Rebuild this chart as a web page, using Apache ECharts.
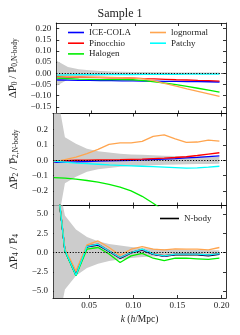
<!DOCTYPE html>
<html><head><meta charset="utf-8">
<script src="https://cdn.jsdelivr.net/npm/echarts@6/dist/echarts.min.js"></script>
<style>html,body{margin:0;padding:0;background:#fff}#c{width:240px;height:335px}</style>
</head><body><div id="c"></div><script>
// k bins (h/Mpc)
const kVals = [0.01, 0.0225, 0.035, 0.0475, 0.06, 0.0725, 0.085, 0.0975, 0.11, 0.1225, 0.135, 0.1475, 0.16, 0.1725, 0.185, 0.1975];

// Monopole relative difference
const iceP0 = [-0.030, -0.031, -0.032, -0.032, -0.033, -0.033, -0.034, -0.034, -0.035, -0.035, -0.036, -0.036, -0.037, -0.037, -0.038, -0.039];
const pinP0 = [-0.015, -0.016, -0.017, -0.018, -0.019, -0.020, -0.021, -0.022, -0.024, -0.025, -0.027, -0.029, -0.030, -0.032, -0.033, -0.035];
const halP0 = [-0.022, -0.024, -0.026, -0.027, -0.028, -0.028, -0.028, -0.029, -0.033, -0.038, -0.044, -0.051, -0.059, -0.067, -0.075, -0.084];
const logP0 = [-0.012, -0.014, -0.016, -0.017, -0.018, -0.019, -0.020, -0.022, -0.025, -0.034, -0.046, -0.058, -0.070, -0.081, -0.092, -0.103];
const patP0 = [-0.008, -0.007, -0.006, -0.006, -0.006, -0.006, -0.006, -0.006, -0.005, -0.005, -0.005, -0.005, -0.004, -0.004, -0.004, -0.004];
const sigP0 = [0.055, 0.028, 0.018, 0.013, 0.010, 0.008, 0.007, 0.006, 0.0055, 0.005, 0.0045, 0.004, 0.004, 0.0035, 0.0035, 0.003];

// Quadrupole relative difference
const iceP2 = [-0.014, -0.012, -0.010, -0.008, -0.006, -0.004, -0.002, 0.000, 0.002, 0.005, 0.008, 0.011, 0.015, 0.019, 0.024, 0.028];
const pinP2 = [-0.004, -0.002, 0.000, 0.001, 0.002, 0.003, 0.004, 0.006, 0.008, 0.011, 0.014, 0.018, 0.023, 0.031, 0.040, 0.049];
const halP2 = [-0.113, -0.117, -0.123, -0.132, -0.143, -0.157, -0.175, -0.200, -0.235, -0.280, -0.330, -0.380, -0.430, -0.480, -0.530, -0.580];
const logP2 = [-0.011, 0.004, 0.020, 0.043, 0.071, 0.104, 0.114, 0.114, 0.123, 0.156, 0.166, 0.140, 0.117, 0.119, 0.132, 0.125];
const patP2 = [-0.006, -0.012, -0.018, -0.022, -0.026, -0.030, -0.033, -0.036, -0.039, -0.042, -0.045, -0.048, -0.051, -0.050, -0.045, -0.039];
const sigP2 = [0.55, 0.15, 0.108, 0.075, 0.058, 0.050, 0.043, 0.038, 0.036, 0.032, 0.030, 0.028, 0.026, 0.025, 0.024, 0.023];

// Hexadecapole relative difference
const nbP4  = [12.8, 0.25, -2.90, 0.75, 0.95, 0.15, -0.75, -0.05, 0.30, -0.25, -0.50, -0.30, -0.30, -0.30, -0.42, -0.25];
const iceP4 = [12.9, 0.28, -2.92, 0.78, 1.02, 0.18, -0.70, -0.02, 0.38, -0.20, -0.46, -0.24, -0.24, -0.24, -0.34, -0.18];
const pinP4 = [12.9, 0.30, -2.90, 0.85, 1.10, 0.22, -0.66, 0.02, 0.42, -0.16, -0.42, -0.20, -0.20, -0.20, -0.30, -0.12];
const halP4 = [13.0, 0.20, -3.00, 0.45, 0.65, -0.20, -1.30, -0.43, -0.10, -0.74, -1.04, -0.74, -0.74, -0.82, -0.90, -0.74];
const logP4 = [13.0, 0.50, -2.40, 1.00, 1.50, 0.65, -0.35, 0.43, 0.78, 0.43, 0.35, 0.48, 0.43, 0.43, 0.35, 0.65];
const patP4 = [13.0, 0.30, -2.94, 0.80, 1.08, 0.20, -0.65, 0.00, 0.43, -0.17, -0.43, -0.20, -0.20, -0.20, -0.30, -0.13];
const sigP4 = [12.0, 4.8, 3.0, 2.0, 1.45, 1.10, 0.90, 0.72, 0.58, 0.50, 0.44, 0.40, 0.36, 0.33, 0.31, 0.29];

// Tick labels
const xTicks = [0.05, 0.10, 0.15, 0.20];
const yTicks0 = [-0.15, -0.10, -0.05, 0.00, 0.05, 0.10, 0.15, 0.20];
const yTicks2 = [-0.2, -0.1, 0.0, 0.1, 0.2];
const yTicks4 = [-5.0, -2.5, 0.0, 2.5, 5.0];

const FONT = 'Liberation Serif';
const COL = {ice:'#0000ff', pin:'#ff0000', hal:'#00ee00', log:'#ffa54f', pat:'#00ffff', nb:'#000000'};

const grids = [
  {left:53, right:14, top:23, height:90.5},
  {left:53, right:14, top:113.5, height:92},
  {left:53, right:14, top:205.5, height:92.5}
];
const yR = [[-0.18, 0.225], [-0.295, 0.305], [-5.9, 6.1]];
const yT = [yTicks0, yTicks2, yTicks4];
const yDec = [2, 1, 1];
const fmtMinus = (v, d) => (v < -1e-9 ? '\u2212' : '') + Math.abs(v).toFixed(d);

const xAxis = [], yAxis = [];
for (let g = 0; g < 3; g++) {
  ['bottom', 'top'].forEach(pos => {
    xAxis.push({
      type:'value', gridIndex:g, position:pos, min:0.009, max:0.205,
      axisLine:{show:true, onZero:false, lineStyle:{color:'#000', width:0.8}},
      axisTick:{show:true, inside:true, length:3, customValues:xTicks, lineStyle:{color:'#000', width:0.8}},
      axisLabel:{show: g === 2 && pos === 'bottom', customValues:xTicks, margin:3,
        formatter: v => v.toFixed(2), fontFamily:FONT, fontSize:9, color:'#222'},
      splitLine:{show:false},
      name: (g === 2 && pos === 'bottom') ? '{i|k} ({i|h}/Mpc)' : '',
      nameLocation:'middle', nameGap:16,
      nameTextStyle:{fontFamily:FONT, fontSize:9.5, color:'#222', rich:{i:{fontFamily:FONT, fontSize:9.5, fontStyle:'italic', color:'#222'}}}
    });
  });
  const names = [
    '{b|\u0394P\u0305}{s|0}{b| / P\u0305}{s|0,N-body}',
    '{b|\u0394P\u0305}{s|2}{b| / P\u0305}{s|2,N-body}',
    '{b|\u0394P\u0305}{s|4}{b| / P\u0305}{s|4}'
  ];
  ['left', 'right'].forEach(pos => {
    yAxis.push({
      type:'value', gridIndex:g, position:pos, min:yR[g][0], max:yR[g][1],
      axisLine:{show:true, onZero:false, lineStyle:{color:'#000', width:0.8}},
      axisTick:{show:true, inside:true, length:3, customValues:yT[g], lineStyle:{color:'#000', width:0.8}},
      axisLabel:{show: pos === 'left', customValues:yT[g], margin:5,
        formatter: v => fmtMinus(v, yDec[g]), fontFamily:FONT, fontSize:9, color:'#222'},
      splitLine:{show:false},
      name: pos === 'left' ? names[g] : '',
      nameLocation:'middle', nameRotate:90, nameGap: g === 0 ? 36 : 33,
      nameTextStyle:{fontFamily:FONT, color:'#222',
        rich:{b:{fontFamily:FONT, fontSize:11, color:'#222'}, s:{fontFamily:FONT, fontSize:7.5, color:'#222', padding:[4,0,0,0]}}}
    });
  });
}

const pts = arr => kVals.map((k, i) => [k, arr[i]]);
const series = [];
function band(g, sig) {
  series.push({
    name:'band'+g, type:'custom', xAxisIndex:2*g, yAxisIndex:2*g, clip:true, silent:true, z:1,
    data: kVals.map((k, i) => [k, -sig[i], sig[i]]),
    encode:{x:0, y:[1,2]},
    renderItem: (params, api) => {
      if (params.dataIndex !== 0) return null;
      const up = kVals.map((k, i) => api.coord([k, sig[i]]));
      const lo = kVals.map((k, i) => api.coord([k, -sig[i]])).reverse();
      return {type:'polygon', shape:{points: up.concat(lo)}, style:{fill:'#cccccc', stroke:null}};
    }
  });
}
function line(g, name, arr, color, last) {
  const s = {
    name, type:'line', xAxisIndex:2*g, yAxisIndex:2*g, data:pts(arr), symbol:'none',
    color, itemStyle:{color}, lineStyle:{color, width:1.3}, z:3, clip:true
  };
  if (last) {
    s.markLine = {silent:true, symbol:'none', label:{show:false}, z:5,
      lineStyle:{color:'#000', type:[1.2,1.6], width:1}, data:[{yAxis:0}]};
  }
  series.push(s);
}
band(0, sigP0);
line(0, 'ICE-COLA', iceP0, COL.ice);
line(0, 'Pinocchio', pinP0, COL.pin);
line(0, 'Halogen', halP0, COL.hal);
line(0, 'lognormal', logP0, COL.log);
line(0, 'Patchy', patP0, COL.pat, true);
band(1, sigP2);
line(1, 'ICE-COLA', iceP2, COL.ice);
line(1, 'Pinocchio', pinP2, COL.pin);
line(1, 'Halogen', halP2, COL.hal);
line(1, 'lognormal', logP2, COL.log);
line(1, 'Patchy', patP2, COL.pat, true);
band(2, sigP4);
line(2, 'N-body', nbP4, COL.nb);
line(2, 'ICE-COLA', iceP4, COL.ice);
line(2, 'Pinocchio', pinP4, COL.pin);
line(2, 'Halogen', halP4, COL.hal);
line(2, 'lognormal', logP4, COL.log);
line(2, 'Patchy', patP4, COL.pat, true);

const legText = {fontFamily:FONT, fontSize:9, lineHeight:9, color:'#222'};
const legBase = {orient:'vertical', icon:'rect', itemWidth:16, itemHeight:1.6, itemGap:1.7,
  textStyle:legText, selectedMode:false, padding:0};

const chart = echarts.init(document.getElementById('c'), null, {renderer:'canvas'});
chart.setOption({
  animation:false,
  backgroundColor:'#fff',
  title:{text:'Sample 1', left:'center', top:3, textStyle:{fontFamily:FONT, fontSize:12, fontWeight:'normal', color:'#222'}},
  grid:grids, xAxis, yAxis, series,
  legend:[
    Object.assign({}, legBase, {data:['ICE-COLA','Pinocchio','Halogen'], left:68, top:28}),
    Object.assign({}, legBase, {data:['lognormal','Patchy'], left:150, top:28}),
    Object.assign({}, legBase, {data:['N-body'], left:160, top:214, itemWidth:19})
  ]
});
</script></body></html>
